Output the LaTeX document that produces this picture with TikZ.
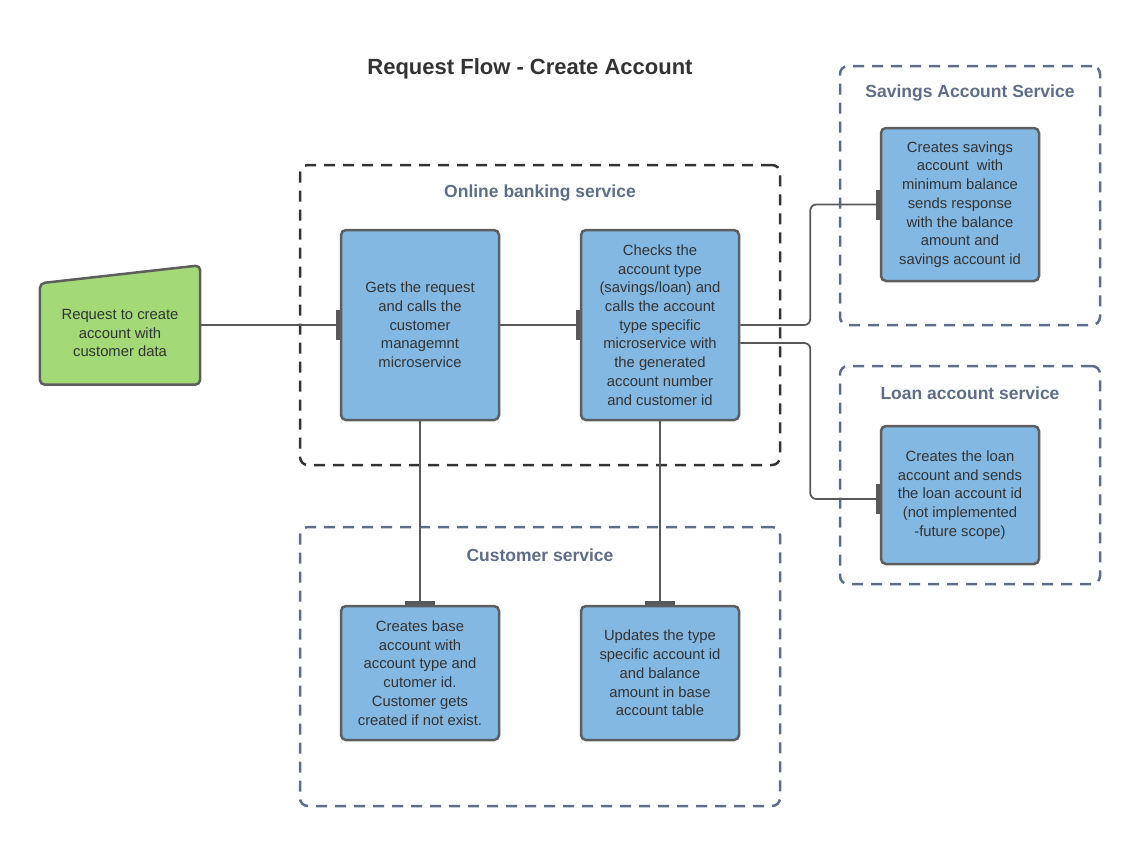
\documentclass[tikz,border=0pt]{standalone}
\usepackage{fontspec}
\setmainfont{Liberation Sans}
\usetikzlibrary{arrows.meta}
\definecolor{boxblue}{HTML}{83B8E3}
\definecolor{boxgreen}{HTML}{A3D977}
\definecolor{boxline}{HTML}{5E5E5E}
\definecolor{linkgray}{HTML}{595959}
\definecolor{slate}{HTML}{5E6D88}
\definecolor{darkdash}{HTML}{333333}
\definecolor{textgray}{HTML}{333333}
\begin{document}
\begin{tikzpicture}[x=1pt, y=-1pt,
  service/.style={rectangle, draw=boxline, fill=boxblue, line width=2.5pt, rounded corners=5pt, minimum width=158pt, align=center, text=textgray, font=\fontsize{14.8}{18.7}\selectfont},
  group/.style={rectangle, draw=slate, line width=2.5pt, dash pattern=on 11pt off 8pt, rounded corners=8pt},
  darkgroup/.style={group, draw=darkdash},
  grouplabel/.style={text=slate, font=\bfseries\fontsize{17.5}{20}\selectfont},
  link/.style={draw=linkgray, line width=1.8pt, rounded corners=6pt, -{Rectangle[length=4pt,width=30pt]}}
]
  \useasboundingbox (0,0) rectangle (1140,846);
  % Title
  \node (title) [text=textgray, font=\bfseries\fontsize{22}{25}\selectfont] at (530,69) {Request Flow - Create Account};
  % Groups
  \node (online) [darkgroup, minimum width=480pt, minimum height=300pt] at (540,315) {};
  \node (customer) [group, minimum width=480pt, minimum height=279pt] at (540,666.5) {};
  \node (savings-group) [group, minimum width=260pt, minimum height=259pt] at (970,195.5) {};
  \node (loan-group) [group, minimum width=260pt, minimum height=218pt] at (970,475) {};
  \node (online-label) [grouplabel] at (540,193) {Online banking service};
  \node (customer-label) [grouplabel] at (540,555) {Customer service};
  \node (savings-label) [grouplabel] at (970,93) {Savings Account Service};
  \node (loan-label) [grouplabel] at (970,393) {Loan account service};
  % Nodes
  \node (request) [minimum width=160pt, minimum height=119pt] at (120,325) {};
  \draw [draw=boxline, fill=boxgreen, line width=2.5pt, rounded corners=5pt] (request.south west) -- (request.south east) -- (request.north east) -- ([yshift=-18pt]request.north west) -- cycle;
  \node (request-text) [align=center, text=textgray, font=\fontsize{14.8}{18.7}\selectfont] at ([yshift=-8pt]request.center) {Request to create\\account with\\customer data};
  \node (gets) [service, minimum height=190pt] at (420,325) {Gets the request\\and calls the\\customer\\managemnt\\microservice};
  \node (checks) [service, minimum height=190pt] at (660,325) {Checks the\\account type\\(savings/loan) and\\calls the account\\type specific\\microservice with\\the generated\\account number\\and customer id};
  \node (savings) [service, minimum height=153pt] at (960,204.5) {Creates savings\\account~ with\\minimum balance\\sends response\\with the balance\\amount and\\savings account id};
  \node (loan) [service, minimum height=138pt] at (960,495) {Creates the loan\\account and sends\\the loan account id\\(not implemented\\-future scope)};
  \node (base) [service, minimum height=134pt] at (420,673) {Creates base\\account with\\account type and\\cutomer id.\\Customer gets\\created if not exist.};
  \node (updates) [service, minimum height=134pt] at (660,673) {Updates the type\\specific account id\\and balance\\amount in base\\account table};
  % Arrow
  \draw[link] (request.east) -- (gets.west);
  \draw[link] (gets.east) -- (checks.west);
  \draw[link] (checks.east) -- ++(70,0) |- (savings.west);
  \draw[link] ([yshift=-18pt]checks.east) -- ++(70,0) |- ([yshift=-4pt]loan.west);
  \draw[link] (gets.south) -- (base.north);
  \draw[link] (checks.south) -- (updates.north);
\end{tikzpicture}
\end{document}
